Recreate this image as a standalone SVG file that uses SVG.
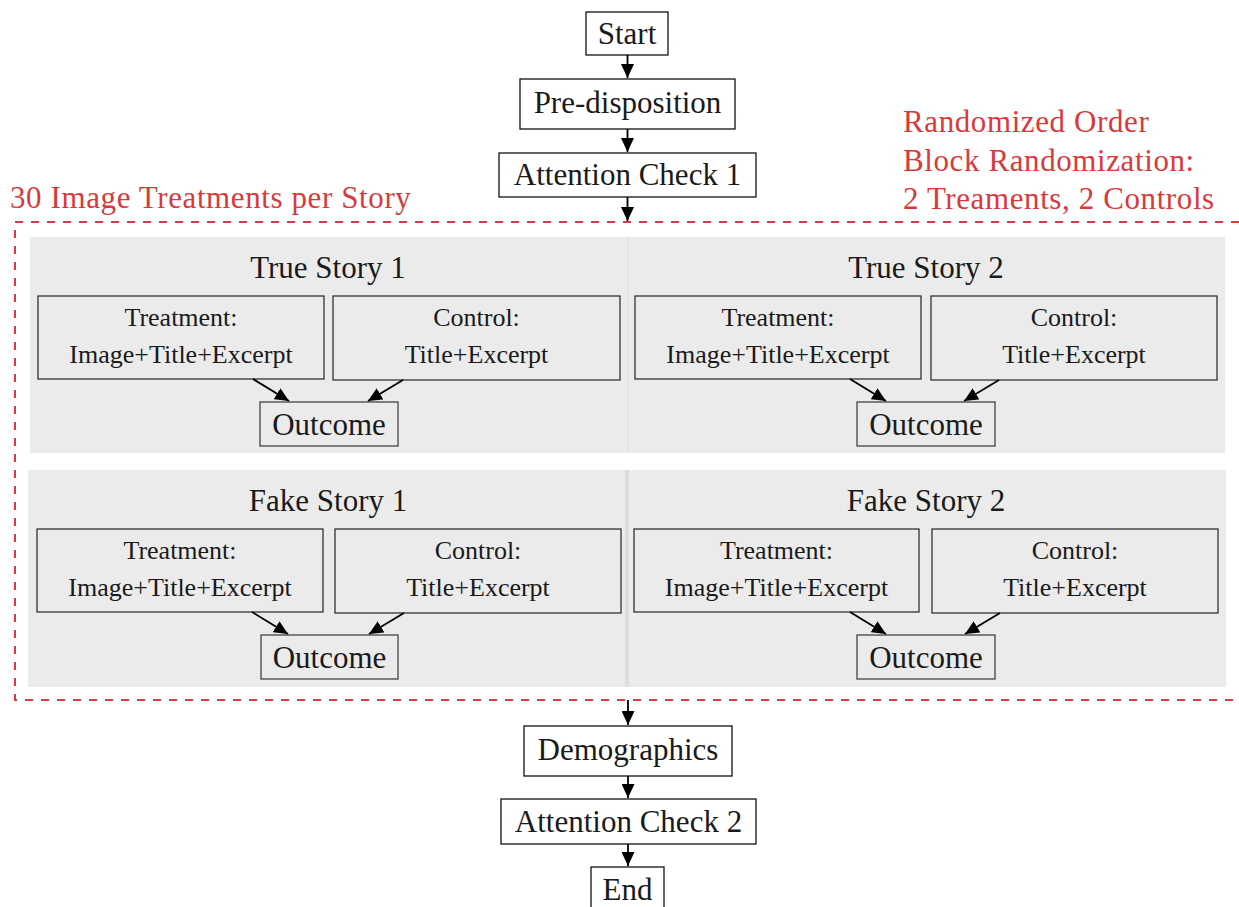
<svg xmlns="http://www.w3.org/2000/svg" width="1239" height="907" viewBox="0 0 1239 907">
<style>
.bg{fill:#ffffff}
.panel{fill:#ebebeb}
.div{fill:#dcdcdc}
.main rect{fill:#ffffff;stroke:#111;stroke-width:1.3}
.inner rect{fill:#ebebeb;stroke:#333;stroke-width:1.3}
.out rect{fill:#ebebeb;stroke:#444;stroke-width:1.3}
text{font-family:"Liberation Serif","Times New Roman",serif;fill:#1a1a1a;text-anchor:middle}
.big{font-size:31px}
.small{font-size:26px}
.red{fill:#d9393c;font-size:31px;text-anchor:start;letter-spacing:0.6px}
.conn line{stroke:#000;stroke-width:1.8}
.dash{fill:none;stroke:#e0393d;stroke-width:2;stroke-dasharray:8 8}
</style>
<defs>
<marker id="ah" markerUnits="userSpaceOnUse" markerWidth="15" markerHeight="13" refX="14" refY="6.5" orient="auto">
<path d="M0,0 L14,6.5 L0,13 z" fill="#000"/>
</marker>
</defs>
<rect class="bg" x="0" y="0" width="1239" height="907"/>

<g id="labels">
<text class="red" x="10" y="208">30 Image Treatments per Story</text>
<text class="red" x="903" y="132">Randomized Order</text>
<text class="red" x="903" y="171">Block Randomization:</text>
<text class="red" x="903" y="209">2 Treaments, 2 Controls</text>
</g>

<g id="panels">
<rect class="panel" x="30" y="237" width="1195" height="216"/>
<rect class="div" x="627.5" y="237" width="1" height="216"/>
<rect class="panel" x="28" y="470" width="1198" height="217"/>
<rect class="div" x="625" y="470" width="4" height="217"/>
</g>

<rect class="dash" x="15" y="222" width="1250" height="478"/>

<g id="start" class="main"><rect x="586" y="12" width="82" height="43"/><text class="big" x="627" y="44">Start</text></g>
<g id="predisposition" class="main"><rect x="520" y="79" width="215" height="50"/><text class="big" x="627.5" y="113">Pre-disposition</text></g>
<g id="attention1" class="main"><rect x="499" y="153" width="257" height="44"/><text class="big" x="627.5" y="185">Attention Check 1</text></g>

<g id="true1">
<text class="big" x="328" y="278">True Story 1</text>
<g id="true1-treatment" class="inner"><rect x="38" y="296" width="286" height="83"/><text class="small" x="181" y="326">Treatment:</text><text class="small" x="181" y="363">Image+Title+Excerpt</text></g>
<g id="true1-control" class="inner"><rect x="333" y="296" width="287" height="84"/><text class="small" x="476.5" y="326">Control:</text><text class="small" x="476.5" y="363">Title+Excerpt</text></g>
<g id="true1-outcome" class="out"><rect x="260" y="402" width="138" height="44"/><text class="big" x="329" y="435">Outcome</text></g>
</g>

<g id="true2">
<text class="big" x="926" y="278">True Story 2</text>
<g id="true2-treatment" class="inner"><rect x="635" y="296" width="286" height="83"/><text class="small" x="778" y="326">Treatment:</text><text class="small" x="778" y="363">Image+Title+Excerpt</text></g>
<g id="true2-control" class="inner"><rect x="931" y="296" width="286" height="84"/><text class="small" x="1074" y="326">Control:</text><text class="small" x="1074" y="363">Title+Excerpt</text></g>
<g id="true2-outcome" class="out"><rect x="857" y="402" width="138" height="44"/><text class="big" x="926" y="435">Outcome</text></g>
</g>

<g id="fake1">
<text class="big" x="328" y="511">Fake Story 1</text>
<g id="fake1-treatment" class="inner"><rect x="37" y="529" width="286" height="83"/><text class="small" x="180" y="559">Treatment:</text><text class="small" x="180" y="596">Image+Title+Excerpt</text></g>
<g id="fake1-control" class="inner"><rect x="335" y="529" width="286" height="84"/><text class="small" x="478" y="559">Control:</text><text class="small" x="478" y="596">Title+Excerpt</text></g>
<g id="fake1-outcome" class="out"><rect x="261" y="635" width="137" height="44"/><text class="big" x="329.5" y="668">Outcome</text></g>
</g>

<g id="fake2">
<text class="big" x="926" y="511">Fake Story 2</text>
<g id="fake2-treatment" class="inner"><rect x="634" y="529" width="285" height="83"/><text class="small" x="776.5" y="559">Treatment:</text><text class="small" x="776.5" y="596">Image+Title+Excerpt</text></g>
<g id="fake2-control" class="inner"><rect x="932" y="529" width="286" height="84"/><text class="small" x="1075" y="559">Control:</text><text class="small" x="1075" y="596">Title+Excerpt</text></g>
<g id="fake2-outcome" class="out"><rect x="857" y="635" width="138" height="44"/><text class="big" x="926" y="668">Outcome</text></g>
</g>

<g id="demographics" class="main"><rect x="524" y="726" width="208" height="50"/><text class="big" x="628" y="760">Demographics</text></g>
<g id="attention2" class="main"><rect x="501" y="799" width="255" height="45"/><text class="big" x="628.5" y="832">Attention Check 2</text></g>
<g id="end" class="main"><rect x="591" y="867" width="73" height="50"/><text class="big" x="627.5" y="900">End</text></g>

<g id="connectors" class="conn">
<line x1="627.5" y1="55" x2="627.5" y2="78" marker-end="url(#ah)"/>
<line x1="627.5" y1="129" x2="627.5" y2="152" marker-end="url(#ah)"/>
<line x1="627.5" y1="197" x2="627.5" y2="221" marker-end="url(#ah)"/>
<line x1="253" y1="379" x2="289" y2="401" marker-end="url(#ah)"/>
<line x1="403" y1="380" x2="368" y2="401" marker-end="url(#ah)"/>
<line x1="850" y1="379" x2="886" y2="401" marker-end="url(#ah)"/>
<line x1="999" y1="380" x2="964" y2="401" marker-end="url(#ah)"/>
<line x1="252" y1="612" x2="288" y2="634" marker-end="url(#ah)"/>
<line x1="404" y1="613" x2="369" y2="634" marker-end="url(#ah)"/>
<line x1="850" y1="612" x2="886" y2="634" marker-end="url(#ah)"/>
<line x1="1000" y1="613" x2="965" y2="634" marker-end="url(#ah)"/>
<line x1="628" y1="700" x2="628" y2="725" marker-end="url(#ah)"/>
<line x1="628" y1="776" x2="628" y2="798" marker-end="url(#ah)"/>
<line x1="628" y1="844" x2="628" y2="866" marker-end="url(#ah)"/>
</g>
</svg>
